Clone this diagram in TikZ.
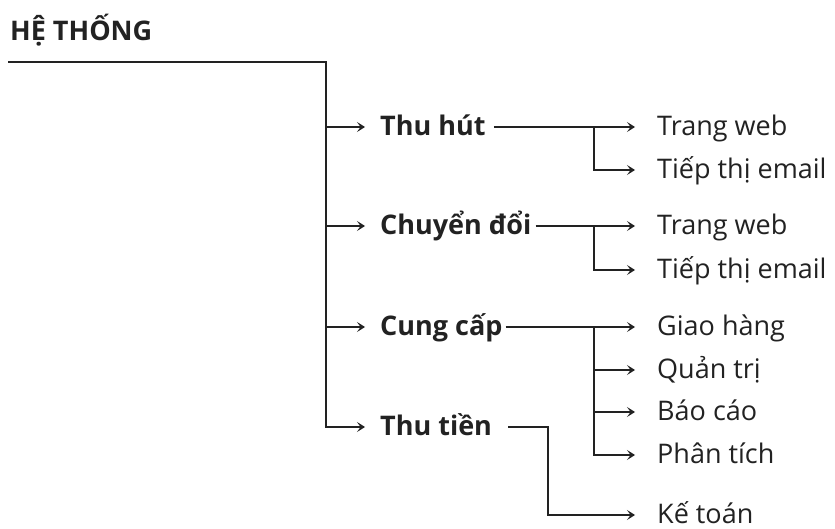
\documentclass[tikz,border=0pt]{standalone}
\usepackage{fontspec}
\setmainfont{Open Sans}
\usetikzlibrary{arrows.meta}
\definecolor{ink}{HTML}{222222}
\begin{document}
\begin{tikzpicture}[x=1pt,y=-1pt,
  wire/.style={draw=ink, line width=1.6pt},
  arr/.style={wire, -{Stealth[length=8pt,width=10pt,inset=3.6pt]}},
  lbl/.style={anchor=west, inner sep=0pt, text height=17pt, text depth=0pt,
    font=\fontsize{27}{30}\selectfont, text=ink},
  cat/.style={lbl, font=\fontsize{27}{30}\selectfont\bfseries},
]
\useasboundingbox (0,0) rectangle (835,529);

% title
\node[cat, anchor=base west] (title) at (10,41) {HỆ THỐNG};

% first level
\node[cat] (thuhut)  at (380,127) {Thu hút};
\node[cat] (chuyen)  at (380,226) {Chuyển đổi};
\node[cat] (cungcap) at (380,327) {Cung cấp};
\node[cat] (thutien) at (380,427) {Thu tiền};

% second level
\node[lbl] (web1)   at (657,127) {Trang web};
\node[lbl] (mail1)  at (657,170) {Tiếp thị email};
\node[lbl] (web2)   at (657,226) {Trang web};
\node[lbl] (mail2)  at (657,270) {Tiếp thị email};
\node[lbl] (giao)   at (657,327) {Giao hàng};
\node[lbl] (quan)   at (657,370) {Quản trị};
\node[lbl] (baocao) at (657,412) {Báo cáo};
\node[lbl] (phan)   at (657,455) {Phân tích};
\node[lbl] (ketoan) at (657,515) {Kế toán};

% trunk
\coordinate (root) at (8,62);
\coordinate (j1) at (326,127);
\coordinate (j2) at (326,226);
\coordinate (j3) at (326,327);
\coordinate (j4) at (326,427);
\draw[arr, shorten >=15pt] (root) -| (j4) -- (thutien.west);
\draw[arr, shorten >=15pt] (j1) -- (thuhut.west);
\draw[arr, shorten >=15pt] (j2) -- (chuyen.west);
\draw[arr, shorten >=15pt] (j3) -- (cungcap.west);

% Thu hut
\coordinate (k1) at (594,127);
\draw[arr, shorten >=22pt] ([xshift=8pt]thuhut.east) -- (web1.west);
\draw[arr, shorten >=22pt] (k1) |- (mail1.west);

% Chuyen doi
\coordinate (k2) at (594,226);
\draw[arr, shorten >=22pt] ([xshift=4pt]chuyen.east) -- (web2.west);
\draw[arr, shorten >=22pt] (k2) |- (mail2.west);

% Cung cap
\coordinate (k3) at (594,327);
\draw[arr, shorten >=22pt] ([xshift=3pt]cungcap.east) -- (giao.west);
\draw[arr, shorten >=22pt] (k3) |- (phan.west);
\draw[arr, shorten >=22pt] (k3 |- quan.west) -- (quan.west);
\draw[arr, shorten >=22pt] (k3 |- baocao.west) -- (baocao.west);

% Thu tien
\coordinate (k4) at (548,515);
\draw[arr, shorten >=22pt] ([xshift=16pt]thutien.east) -| (k4) -- (ketoan.west);
\end{tikzpicture}
\end{document}
